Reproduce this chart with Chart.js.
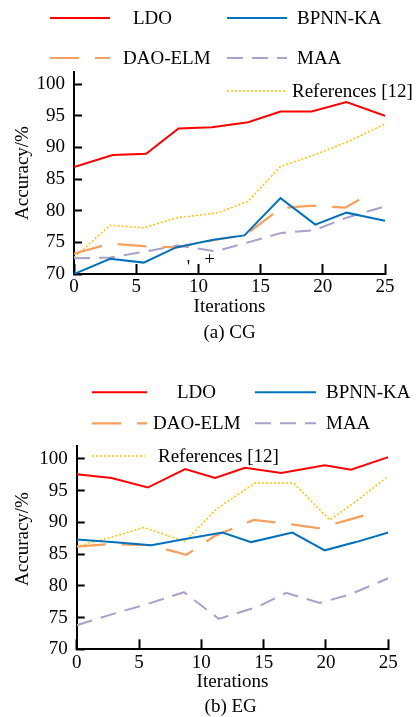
<!DOCTYPE html>
<html>
<head>
<meta charset="utf-8">
<script src="https://cdn.jsdelivr.net/npm/chart.js@4.4.0/dist/chart.umd.min.js"></script>
<style>
  html, body { margin: 0; padding: 0; background: #fff; }
  body { width: 420px; height: 717px; position: relative; overflow: hidden; }
  canvas { position: absolute; left: 0; }
  #cg { top: 0; }
  #eg { top: 358px; }
</style>
</head>
<body>
<canvas id="cg" width="420" height="358"></canvas>
<canvas id="eg" width="420" height="359"></canvas>
<script>
const seriesNames = ["LDO", "BPNN-KA", "DAO-ELM", "MAA", "References [12]"];
const xLabel = "Iterations";
const yLabel = "Accuracy/%";

// (a) CG
const cgLdoX = [0, 3.1, 5.8, 8.4, 11.1, 14.0, 16.6, 19.1, 21.9, 25];
const cgLdoY = [86.9, 88.8, 89.0, 93.0, 93.2, 94.0, 95.7, 95.7, 97.2, 95.0];
const cgBpnnX = [0, 2.9, 5.6, 8.2, 11.2, 13.7, 16.6, 19.4, 21.9, 25];
const cgBpnnY = [70.0, 72.4, 71.8, 74.2, 75.4, 76.1, 82.0, 77.8, 79.7, 78.4];
const cgDaoX = [0, 2.9, 5.6, 8.3, 11.1, 13.8, 16.6, 19.2, 21.8, 23.7];
const cgDaoY = [73.2, 74.8, 74.4, 74.2, 75.3, 76.2, 80.4, 80.8, 80.5, 82.6];
const cgMaaX = [0, 2.9, 5.6, 8.3, 11.4, 14.0, 16.7, 19.3, 21.9, 25];
const cgMaaY = [72.5, 72.6, 73.5, 74.5, 73.6, 75.0, 76.5, 76.9, 78.9, 80.7];
const cgRefX = [0, 2.9, 5.6, 8.3, 11.6, 14.0, 16.6, 19.4, 22.0, 25];
const cgRefY = [72.6, 77.7, 77.3, 78.9, 79.7, 81.5, 87.0, 88.9, 90.9, 93.7];
const cgMarks = [{ text: "'", x: 9.2, y: 70.9 }, { text: "+", x: 10.9, y: 72.2 }];

// (b) EG
const egLdoX = [0, 2.8, 5.7, 8.7, 11.1, 13.5, 16.4, 19.9, 22.0, 25];
const egLdoY = [97.6, 97.0, 95.5, 98.4, 97.0, 98.6, 97.8, 99.0, 98.3, 100.3];
const egBpnnX = [0, 2.8, 6.0, 8.7, 11.7, 14.0, 17.3, 19.9, 22.4, 25];
const egBpnnY = [87.3, 86.9, 86.4, 87.4, 88.4, 86.9, 88.4, 85.6, 86.9, 88.4];
const egDaoX = [0, 2.8, 5.9, 8.8, 11.1, 14.2, 16.8, 19.4, 21.8, 24.1];
const egDaoY = [86.2, 86.6, 86.4, 84.9, 87.9, 90.4, 89.8, 89.1, 90.4, 91.7];
const egMaaX = [0, 2.8, 5.6, 8.6, 11.4, 14.5, 16.8, 19.5, 22.0, 25];
const egMaaY = [73.8, 75.5, 77.1, 79.0, 74.8, 76.7, 78.9, 77.3, 78.7, 81.2];
const egRefX = [0, 2.8, 5.4, 8.7, 11.2, 14.3, 17.4, 20.3, 22.4, 25];
const egRefY = [86.2, 87.7, 89.2, 87.0, 92.1, 96.2, 96.2, 90.4, 93.3, 97.3];

const lineStyles = [
  { color: "#ff0000", width: 2, dash: [] },
  { color: "#0072bd", width: 2, dash: [] },
  { color: "#f7a05c", width: 2.2, dash: [29, 16] },
  { color: "#ab9fcc", width: 2, dash: [16, 9] },
  { color: "#ffc000", width: 1.5, dash: [2, 2] },
];

Chart.defaults.font.family = "'Liberation Serif', 'Times New Roman', serif";
Chart.defaults.font.size = 19;
Chart.defaults.color = "#000";

const toPoints = (xs, ys) => xs.map((x, i) => ({ x: x, y: ys[i] }));

// legend, axis titles, caption drawn on top
const decor = {
  id: "decor",
  afterDraw(chart, args, opts) {
    const ctx = chart.ctx;
    ctx.save();
    ctx.font = "19px 'Liberation Serif'";
    ctx.fillStyle = "#000";
    ctx.textBaseline = "middle";
    chart.data.datasets.forEach((ds, i) => {
      const p = opts.legend[i];
      ctx.strokeStyle = ds.borderColor;
      ctx.lineWidth = ds.borderWidth;
      ctx.setLineDash(ds.borderDash);
      ctx.beginPath();
      ctx.moveTo(p.x0, p.y);
      ctx.lineTo(p.x1, p.y);
      ctx.stroke();
      ctx.setLineDash([]);
      ctx.textAlign = "left";
      ctx.fillText(ds.label, p.tx, p.y + 1);
    });
    ctx.textAlign = "center";
    ctx.fillText(xLabel, opts.xTitle.x, opts.xTitle.y);
    ctx.fillText(opts.caption.text, opts.caption.x, opts.caption.y);
    (opts.marks || []).forEach(m => {
      ctx.fillText(m.text, chart.scales.x.getPixelForValue(m.x), chart.scales.y.getPixelForValue(m.y));
    });
    ctx.translate(opts.yTitle.x, opts.yTitle.y);
    ctx.rotate(-Math.PI / 2);
    ctx.fillText(yLabel, 0, 0);
    ctx.restore();
  }
};

function makeChart(id, area, series, decorOpts) {
  const canvas = document.getElementById(id);
  const W = canvas.width, H = canvas.height;
  const hidden = {
    type: "linear", display: true,
    grid: { display: false }, ticks: { display: false }, border: { display: false }
  };
  return new Chart(canvas.getContext("2d"), {
    type: "line",
    data: {
      datasets: series.map((s, i) => ({
        label: seriesNames[i],
        data: toPoints(s[0], s[1]),
        borderColor: lineStyles[i].color,
        borderWidth: lineStyles[i].width,
        borderDash: lineStyles[i].dash,
        pointRadius: 0,
        tension: 0,
        fill: false
      }))
    },
    options: {
      responsive: false,
      animation: false,
      layout: { padding: 0 },
      plugins: { legend: { display: false }, tooltip: { enabled: false }, decor: decorOpts },
      scales: {
        x: {
          type: "linear", position: "bottom", min: 0, max: 25,
          ticks: { stepSize: 5, padding: 12, includeBounds: false },
          grid: { drawOnChartArea: false, tickLength: -10, tickWidth: 2, tickColor: "#000" },
          border: { color: "#000", width: 2 },
          afterFit: s => { s.height = H - area.bottom; }
        },
        y: {
          type: "linear", position: "left", min: 70, max: 102,
          ticks: { stepSize: 5, padding: 17, includeBounds: false },
          grid: { drawOnChartArea: false, tickLength: -8, tickWidth: 2, tickColor: "#000" },
          border: { color: "#000", width: 2 },
          afterFit: s => { s.width = area.left; }
        },
        xTop: Object.assign({ position: "top", afterFit: s => { s.height = area.top; } }, hidden),
        yRight: Object.assign({ position: "right", afterFit: s => { s.width = W - area.right; } }, hidden)
      }
    },
    plugins: [decor]
  });
}

makeChart("cg", { left: 74, top: 71.6, right: 385, bottom: 274 },
  [[cgLdoX, cgLdoY], [cgBpnnX, cgBpnnY], [cgDaoX, cgDaoY], [cgMaaX, cgMaaY], [cgRefX, cgRefY]],
  {
    legend: [
      { x0: 50, x1: 110, y: 18, tx: 133 },
      { x0: 227, x1: 287, y: 18, tx: 297 },
      { x0: 50, x1: 110, y: 58, tx: 123 },
      { x0: 227, x1: 287, y: 58, tx: 297 },
      { x0: 227, x1: 287, y: 91, tx: 292 }
    ],
    xTitle: { x: 229.5, y: 307 },
    yTitle: { x: 23, y: 173 },
    caption: { text: "(a) CG", x: 229.5, y: 333 },
    marks: cgMarks
  });

makeChart("eg", { left: 76.7, top: 88.3, right: 388.3, bottom: 291.3 },
  [[egLdoX, egLdoY], [egBpnnX, egBpnnY], [egDaoX, egDaoY], [egMaaX, egMaaY], [egRefX, egRefY]],
  {
    legend: [
      { x0: 92, x1: 147, y: 34.3, tx: 177 },
      { x0: 255, x1: 316, y: 34.3, tx: 326 },
      { x0: 92, x1: 147, y: 65.3, tx: 153 },
      { x0: 255, x1: 316, y: 65.3, tx: 326 },
      { x0: 92, x1: 145, y: 98, tx: 158 }
    ],
    xTitle: { x: 232.5, y: 324 },
    yTitle: { x: 23, y: 181 },
    caption: { text: "(b) EG", x: 230.7, y: 349 }
  });
</script>
</body>
</html>
